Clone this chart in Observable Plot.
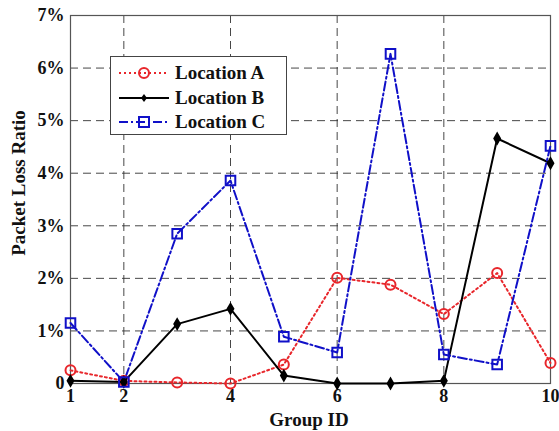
<!DOCTYPE html>
<html><head><meta charset="utf-8">
<script src="https://cdn.jsdelivr.net/npm/d3@7"></script>
<script src="https://cdn.jsdelivr.net/npm/@observablehq/plot@0.6"></script>
<style>
body{margin:0;background:#fff;}
#wrap{position:relative;width:559px;height:431px;font-family:"Liberation Serif","Times New Roman",serif;}
#legend{position:absolute;left:110px;top:56px;width:175px;height:77px;border:1px solid #444;background:#fff;font-weight:bold;font-size:19px;color:#111;}
#legend .row{position:absolute;left:0;height:24px;display:flex;align-items:center;}
#legend svg{margin-left:8px;margin-right:6px;}
</style></head>
<body><div id="wrap"><div id="chart"></div><div id="legend"></div></div>
<script>
const groups = [1,2,3,4,5,6,7,8,9,10];
const locA = [0.25,0.05,0.02,0.0,0.36,2.01,1.88,1.32,2.10,0.39];
const locB = [0.05,0.03,1.13,1.42,0.15,0.0,0.0,0.05,4.66,4.19];
const locC = [1.15,0.03,2.85,3.86,0.89,0.59,6.27,0.55,0.36,4.52];
const seriesNames = ["Location A","Location B","Location C"];
const xTicks = [1,2,4,6,8,10];
const yTicks = [0,1,2,3,4,5,6,7];
const xLabel = "Group ID";
const yLabel = "Packet Loss Ratio";

const styles = {
  "Location A": {color:"#e8262b", dash:"2,3", width:2, symbol:"circle", r:5, fill:"none"},
  "Location B": {color:"#000000", dash:null, width:2, symbol:"diamond", r:3, fill:"#000"},
  "Location C": {color:"#1010c8", dash:"9,3,2,3", width:2, symbol:"square", r:5.4, fill:"none"}
};
const vals = {"Location A":locA,"Location B":locB,"Location C":locC};
const data = seriesNames.flatMap(s => groups.map((g,i)=>({series:s, x:g, y:vals[s][i]})));

const marks = [
  Plot.gridY([1,2,3,4,5,6], {stroke:"#333", strokeOpacity:0.9, strokeDasharray:"8,5", strokeWidth:1}),
  Plot.gridX([2,4,6,8], {stroke:"#333", strokeOpacity:0.9, strokeDasharray:"8,5", strokeWidth:1}),
  Plot.axisX({ticks:xTicks, tickSize:0, tickPadding:6, fontSize:18, fontWeight:"bold", label:null}),
  Plot.axisY({ticks:yTicks, tickSize:0, tickPadding:6, fontSize:18, fontWeight:"bold", tickFormat:d=>d===0?"0":d+"%", label:null}),
  Plot.frame({stroke:"#555", strokeWidth:1.2})
];
for (const s of seriesNames) {
  const st = styles[s];
  const d = data.filter(e=>e.series===s);
  marks.push(Plot.line(d, {x:"x", y:"y", stroke:st.color, strokeWidth:st.width, strokeDasharray:st.dash}));
}
for (const s of seriesNames) {
  const st = styles[s];
  const d = data.filter(e=>e.series===s);
  marks.push(Plot.dot(d, {x:"x", y:"y", symbol:st.symbol, r:st.r, stroke:st.color, strokeWidth:2, fill:st.fill}));
}

const chart = Plot.plot({
  width:559, height:431,
  marginLeft:70, marginRight:9, marginTop:15, marginBottom:48,
  style:{fontFamily:"Liberation Serif, Times New Roman, serif", fontSize:"18px", fontWeight:"bold", color:"#111", background:"#fff"},
  x:{domain:[1,10]},
  y:{domain:[0,7]},
  marks
});
// axis titles
const ns = "http://www.w3.org/2000/svg";
function addText(str, tf){
  const t = document.createElementNS(ns,"text");
  t.setAttribute("transform", tf);
  t.setAttribute("text-anchor","middle");
  t.setAttribute("dominant-baseline","central");
  t.setAttribute("font-size","19");
  t.setAttribute("font-weight","bold");
  t.setAttribute("fill","#111");
  t.textContent = str;
  chart.appendChild(t);
}
addText(xLabel, "translate(309,419)");
addText(yLabel, "translate(18,183) rotate(-90)");
document.getElementById("chart").appendChild(chart);

// legend
const leg = document.getElementById("legend");
seriesNames.forEach((s,i)=>{
  const st = styles[s];
  const row = document.createElement("div");
  row.className="row"; row.style.top=(4+i*24.5)+"px";
  const sym = st.symbol==="circle" ? `<circle cx="25" cy="8" r="5" fill="none" stroke="${st.color}" stroke-width="2"/>`
    : st.symbol==="square" ? `<rect x="20" y="3" width="10" height="10" fill="none" stroke="${st.color}" stroke-width="2"/>`
    : `<path d="M25,4 L28,8 L25,12 L22,8Z" fill="#000"/>`;
  row.innerHTML = `<svg width="50" height="16"><line x1="0" x2="50" y1="8" y2="8" stroke="${st.color}" stroke-width="2" ${st.dash?`stroke-dasharray="${st.dash}"`:""}/>${sym}</svg><span>${s}</span>`;
  leg.appendChild(row);
});
</script></body></html>
